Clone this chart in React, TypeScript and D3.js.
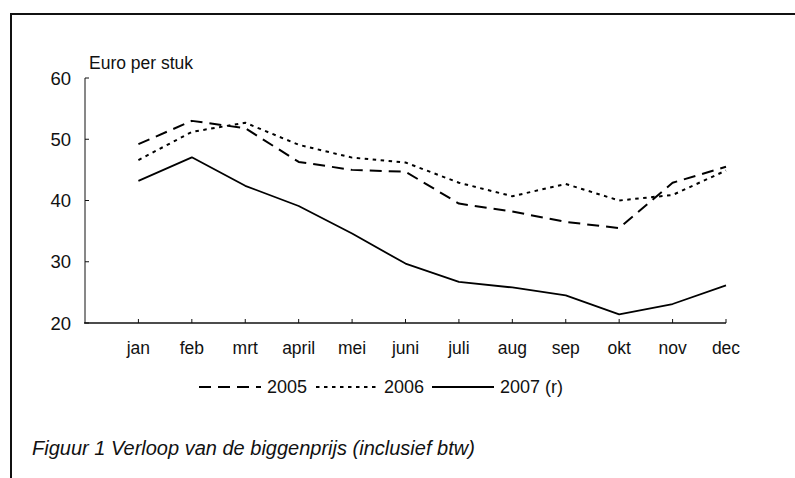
import React from "react";
import * as d3 from "d3";

const months = ["jan", "feb", "mrt", "april", "mei", "juni", "juli", "aug", "sep", "okt", "nov", "dec"];
const s2005 = [49.2, 53.0, 51.8, 46.3, 45.0, 44.7, 39.5, 38.2, 36.5, 35.5, 42.9, 45.5];
const s2006 = [46.6, 51.2, 52.7, 49.1, 47.0, 46.2, 42.9, 40.7, 42.7, 40.0, 40.9, 44.9];
const s2007 = [43.2, 47.05, 42.4, 39.1, 34.6, 29.7, 26.7, 25.8, 24.5, 21.4, 23.1, 26.15];
const yTicks = [20, 30, 40, 50, 60];
const seriesNames = ["2005", "2006", "2007 (r)"];

const FONT = "'Liberation Sans', Arial, sans-serif";

export default function App() {
  const W = 795, H = 478;
  const x = d3.scaleLinear().domain([0, 12]).range([85, 726]);
  const y = d3.scaleLinear().domain([20, 60]).range([323, 78]);
  const line = d3.line<number>().x((_, i) => x(i + 1)).y((d) => y(d));
  const series = [
    { name: seriesNames[0], data: s2005, dash: "12,7", w: 2 },
    { name: seriesNames[1], data: s2006, dash: "3.5,4.5", w: 2 },
    { name: seriesNames[2], data: s2007, dash: "none", w: 1.8 },
  ];
  const legendX = [199, 316, 432];
  return (
    <svg width={W} height={H} style={{ position: "absolute", left: 0, top: 0 }} fontFamily={FONT}>
      <rect x={0} y={0} width={W} height={H} fill="#fff" />
      <line x1={10} y1={14} x2={W} y2={14} stroke="#111" strokeWidth={2} />
      <line x1={11} y1={13} x2={11} y2={H} stroke="#111" strokeWidth={2} />
      <text x={89} y={69} fontSize={17.5} fill="#111">Euro per stuk</text>
      {/* y axis */}
      <line x1={x(0)} y1={y(60)} x2={x(0)} y2={y(20)} stroke="#111" strokeWidth={1} />
      {yTicks.map((t) => (
        <g key={t}>
          <line x1={x(0)} x2={x(0) + 4} y1={y(t)} y2={y(t)} stroke="#111" />
          <text x={71} y={y(t)} dy="0.36em" textAnchor="end" fontSize={18.5} fill="#111">{t}</text>
        </g>
      ))}
      {/* x axis */}
      <line x1={x(0) - 1} y1={y(20)} x2={x(12)} y2={y(20)} stroke="#111" strokeWidth={1.5} />
      {months.map((m, i) => (
        <g key={m}>
          <line x1={x(i + 1)} x2={x(i + 1)} y1={y(20)} y2={y(20) - 4} stroke="#111" />
          <text x={x(i + 1)} y={348} dy="0.36em" textAnchor="middle" fontSize={17.5} fill="#111">{m}</text>
        </g>
      ))}
      {series.map((s) => (
        <path key={s.name} d={line(s.data) || ""} fill="none" stroke="#000" strokeWidth={s.w}
          strokeDasharray={s.dash} strokeLinejoin="round" />
      ))}
      {series.map((s, i) => (
        <g key={"lg" + s.name}>
          <line x1={legendX[i]} x2={legendX[i] + 62} y1={387} y2={387} stroke="#000" strokeWidth={s.w}
            strokeDasharray={s.dash} />
          <text x={legendX[i] + 68} y={387} dy="0.36em" fontSize={18} fill="#111">{s.name}</text>
        </g>
      ))}
      <text x={32} y={448} dy="0.36em" fontSize={20} fontStyle="italic" fill="#111">
        Figuur 1 Verloop van de biggenprijs (inclusief btw)
      </text>
    </svg>
  );
}
